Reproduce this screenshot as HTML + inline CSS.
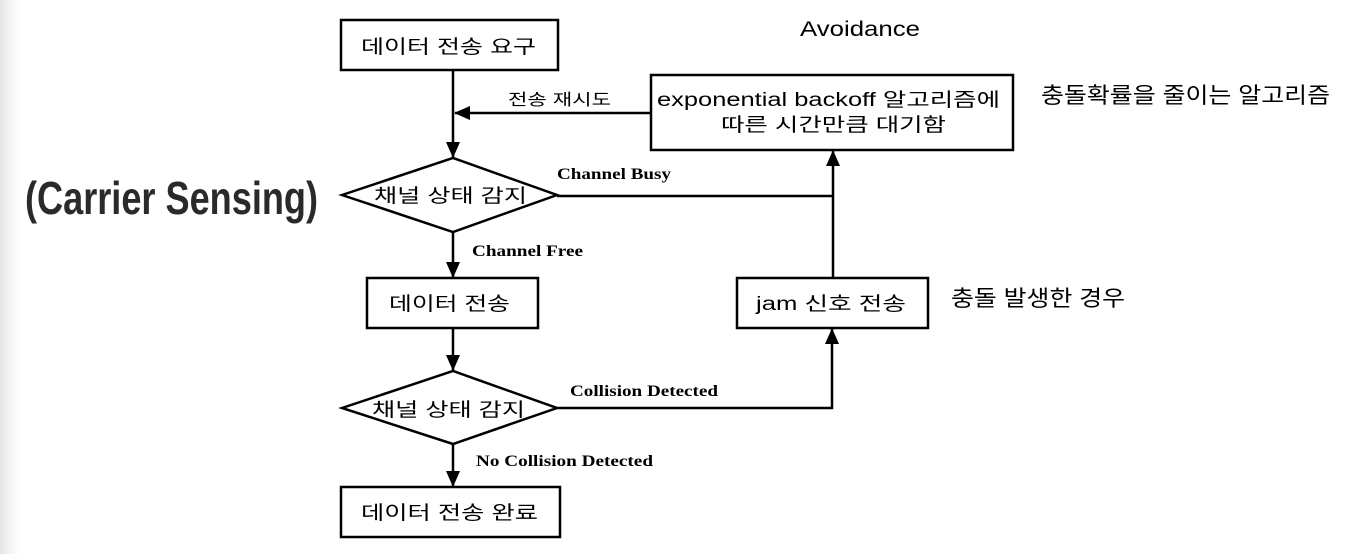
<!DOCTYPE html>
<html><head><meta charset="utf-8"><style>
html,body{margin:0;padding:0;background:#fff}
body{width:1346px;height:554px;overflow:hidden;background:linear-gradient(to right,#e6e6e6 0px,#f6f6f6 12px,#fff 22px)}
svg text{font-family:"Liberation Sans","Noto Sans CJK KR",sans-serif}
.b{font-family:"Liberation Serif",serif !important;font-weight:bold;font-size:16px}
</style></head><body>
<svg width="1346" height="554" viewBox="0 0 1346 554" xmlns="http://www.w3.org/2000/svg">
<defs><marker id="a" markerWidth="16" markerHeight="14" refX="15" refY="7" orient="auto" markerUnits="userSpaceOnUse"><path d="M0,0 L16,7 L0,14 Z" fill="#000"/></marker></defs>
<g fill="none" stroke="#000" stroke-width="2.5">
<rect x="341" y="20" width="217" height="50"/>
<rect x="651" y="75" width="362" height="75"/>
<polygon points="342,195 453,158 557,195 453,232"/>
<rect x="367" y="278" width="171" height="50"/>
<rect x="737" y="278" width="191" height="50"/>
<polygon points="342,408 453,371 557,408 453,444"/>
<rect x="341" y="487" width="219" height="50"/>
</g>
<g stroke="#000" stroke-width="2.5" fill="none">
<line x1="453" y1="70" x2="453" y2="157" marker-end="url(#a)"/>
<line x1="651" y1="113" x2="455" y2="113" marker-end="url(#a)"/>
<line x1="453" y1="232" x2="453" y2="277" marker-end="url(#a)"/>
<line x1="453" y1="328" x2="453" y2="370" marker-end="url(#a)"/>
<line x1="453" y1="444" x2="453" y2="486" marker-end="url(#a)"/>
<polyline points="557,196 833,196"/>
<line x1="833" y1="278" x2="833" y2="151" marker-end="url(#a)"/>
<polyline points="557,408 832,408 832,329" marker-end="url(#a)"/>
</g>
<g font-size="19">
<text x="361" y="53" textLength="175" lengthAdjust="spacingAndGlyphs">데이터 전송 요구</text>
<text x="657" y="106" textLength="343" lengthAdjust="spacingAndGlyphs">exponential backoff 알고리즘에</text>
<text x="721" y="131" textLength="225" lengthAdjust="spacingAndGlyphs">따른 시간만큼 대기함</text>
<text x="374" y="202" textLength="153" lengthAdjust="spacingAndGlyphs">채널 상태 감지</text>
<text x="389" y="310" textLength="121" lengthAdjust="spacingAndGlyphs">데이터 전송</text>
<text x="756" y="310" textLength="150" lengthAdjust="spacingAndGlyphs">jam 신호 전송</text>
<text x="372" y="416" textLength="153" lengthAdjust="spacingAndGlyphs">채널 상태 감지</text>
<text x="361" y="519" textLength="177" lengthAdjust="spacingAndGlyphs">데이터 전송 완료</text>
</g>
<text x="508" y="105" font-size="16" textLength="103" lengthAdjust="spacingAndGlyphs">전송 재시도</text>
<text class="b" x="557" y="179" textLength="114" lengthAdjust="spacingAndGlyphs">Channel Busy</text>
<text class="b" x="472" y="256" textLength="111" lengthAdjust="spacingAndGlyphs">Channel Free</text>
<text class="b" x="570" y="396" textLength="148" lengthAdjust="spacingAndGlyphs">Collision Detected</text>
<text class="b" x="476" y="466" textLength="177" lengthAdjust="spacingAndGlyphs">No Collision Detected</text>
<text x="800" y="36" font-size="21" textLength="120" lengthAdjust="spacingAndGlyphs">Avoidance</text>
<text x="1041" y="103" font-size="22" textLength="289" lengthAdjust="spacingAndGlyphs">충돌확률을 줄이는 알고리즘</text>
<text x="951" y="306" font-size="22" textLength="174" lengthAdjust="spacingAndGlyphs">충돌 발생한 경우</text>
<text x="25" y="214" font-size="46" font-weight="bold" fill="#2a2a2a" textLength="293" lengthAdjust="spacingAndGlyphs">(Carrier Sensing)</text>
</svg>
</body></html>
